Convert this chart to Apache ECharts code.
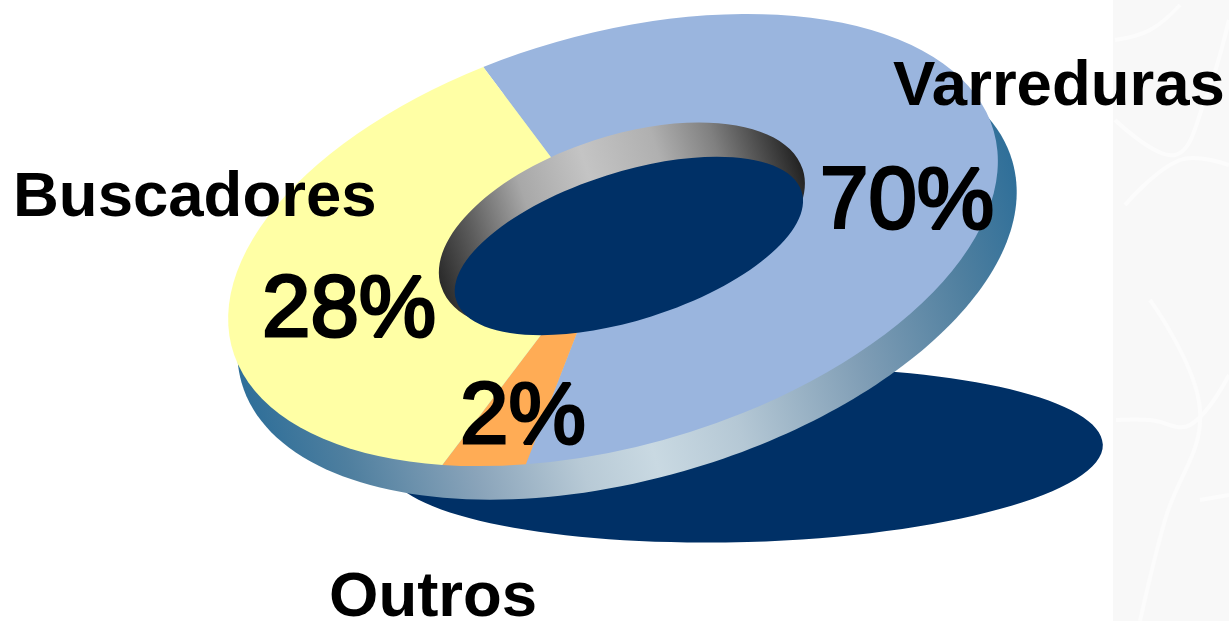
<!DOCTYPE html>
<html>
<head>
<meta charset="utf-8">
<title>Buscadores</title>
<script src="https://cdn.jsdelivr.net/npm/echarts@6/dist/echarts.min.js"></script>
<style>
  html, body { margin: 0; padding: 0; background: #fff; }
  #main { width: 1229px; height: 621px; }
</style>
</head>
<body>
<div id="main"></div>
<script>
// slice data, clockwise from the top boundary
var sliceNames = ['Varreduras', 'Outros', 'Buscadores'];
var sliceValues = [70, 2, 28];
var sliceColors = ['#9ab5de', '#ffac55', '#ffffa5'];

var NAVY = '#003066';
var FONT = '"Liberation Sans", Arial, sans-serif';

// the disc as an ellipse on screen
var disc = { cx: 613, cy: 240, a: 396, b: 206, tilt: 16 };
// perspective: slices close to the viewer look wider
var persp = { k: 1.85, axis: 128.5, offset: -261.2 };

function viewAngle(deg) {
  var u = deg * Math.PI / 360;
  return persp.axis + 2 * Math.atan2(persp.k * Math.sin(u), Math.cos(u)) * 180 / Math.PI;
}

function normalize(deg) {
  while (deg > 180) deg -= 360;
  while (deg < -180) deg += 360;
  return deg;
}

function renderSlice(params, api) {
  var i = params.dataIndex;
  var sum = 0;
  for (var n = 0; n < i; n++) sum += sliceValues[n];
  var start = viewAngle(normalize(sum * 3.6 + persp.offset));
  var end = viewAngle(normalize((sum + api.value(0)) * 3.6 + persp.offset));
  while (end <= start) end += 360;
  return {
    type: 'group',
    x: disc.cx,
    y: disc.cy,
    rotation: disc.tilt * Math.PI / 180,
    children: [{
      type: 'group',
      scaleY: disc.b / disc.a,
      children: [{
        type: 'sector',
        shape: {
          cx: 0, cy: 0, r0: 0, r: disc.a,
          startAngle: start * Math.PI / 180,
          endAngle: end * Math.PI / 180,
          clockwise: true
        },
        style: { fill: sliceColors[i] }
      }]
    }]
  };
}

function ellipse(cx, cy, a, b, tilt, fill, z) {
  return {
    type: 'ellipse',
    x: cx, y: cy,
    rotation: tilt * Math.PI / 180,
    shape: { cx: 0, cy: 0, rx: a, ry: b },
    style: { fill: fill },
    z: z,
    silent: true
  };
}

function stops(list) {
  return new echarts.graphic.LinearGradient(0, 0, 1, 0, list.map(function (s) {
    return { offset: s[0], color: s[1] };
  }));
}

var rimFill = stops([[0, '#2f6f99'], [0.1, '#4f7f9f'], [0.25, '#8aa4ba'], [0.38, '#b8cad6'],
  [0.47, '#c9d9e2'], [0.58, '#b5c8d5'], [0.75, '#7f9db5'], [0.9, '#4f7f9f'], [1, '#2f6f99']]);
var wallFill = stops([[0, '#2a2a2a'], [0.12, '#5c5c5c'], [0.28, '#a8a8a8'], [0.46, '#c4c4c4'],
  [0.65, '#b0b0b0'], [0.8, '#808080'], [0.95, '#3a3a3a'], [1, '#222222']]);

function label(text, x, y, size, weight, z) {
  return {
    type: 'text',
    z: z,
    silent: true,
    style: {
      x: x, y: y, text: text,
      font: weight + ' ' + size + 'px ' + FONT,
      fill: '#000',
      stroke: weight === 'normal' ? '#000' : null,
      lineWidth: weight === 'normal' ? 3 : 0,
      textVerticalAlign: 'bottom'
    }
  };
}

// pale watermark behind the right edge
function vein(points) {
  return {
    type: 'polyline', z: 0, silent: true,
    shape: { points: points, smooth: 0.4 },
    style: { stroke: '#fcfcfc', lineWidth: 4, fill: null }
  };
}

var chart = echarts.init(document.getElementById('main'), null, { renderer: 'canvas' });
chart.setOption({
  animation: false,
  backgroundColor: '#ffffff',
  graphic: { elements: [
    { type: 'rect', z: 0, silent: true, shape: { x: 1113, y: 0, width: 116, height: 621 }, style: { fill: '#f8f8f8' } },
    vein([[1115, 40], [1150, 30], [1180, 5]]),
    vein([[1115, 120], [1175, 155], [1205, 100], [1229, 20]]),
    vein([[1125, 205], [1180, 160], [1229, 165]]),
    vein([[1150, 300], [1200, 410], [1165, 520], [1140, 621]]),
    vein([[1116, 420], [1150, 420], [1190, 425], [1229, 375]]),
    vein([[1200, 500], [1229, 495]]),
    ellipse(745, 455, 358, 87, 1.7, NAVY, 1),
    ellipse(627, 272, 401, 207, 16, rimFill, 2),
    ellipse(622, 228, 190, 92, 18, wallFill, 4),
    ellipse(629, 246, 181, 74, 17.5, NAVY, 5),
    label(sliceNames[0], 893, 119, 63.5, 'bold', 6),
    label(sliceNames[2], 13, 230, 63.5, 'bold', 6),
    label(sliceNames[1], 329, 630, 63.5, 'bold', 6),
    label(sliceValues[0] + '%', 820, 248, 87, 'normal', 6),
    label(sliceValues[2] + '%', 262, 356, 87, 'normal', 6),
    label(sliceValues[1] + '%', 460, 463, 87, 'normal', 6)
  ] },
  series: [{
    type: 'custom',
    coordinateSystem: 'none',
    z: 3,
    silent: true,
    renderItem: renderSlice,
    encode: { value: 0 },
    data: sliceValues.map(function (v) { return [v]; })
  }]
});
</script>
</body>
</html>
